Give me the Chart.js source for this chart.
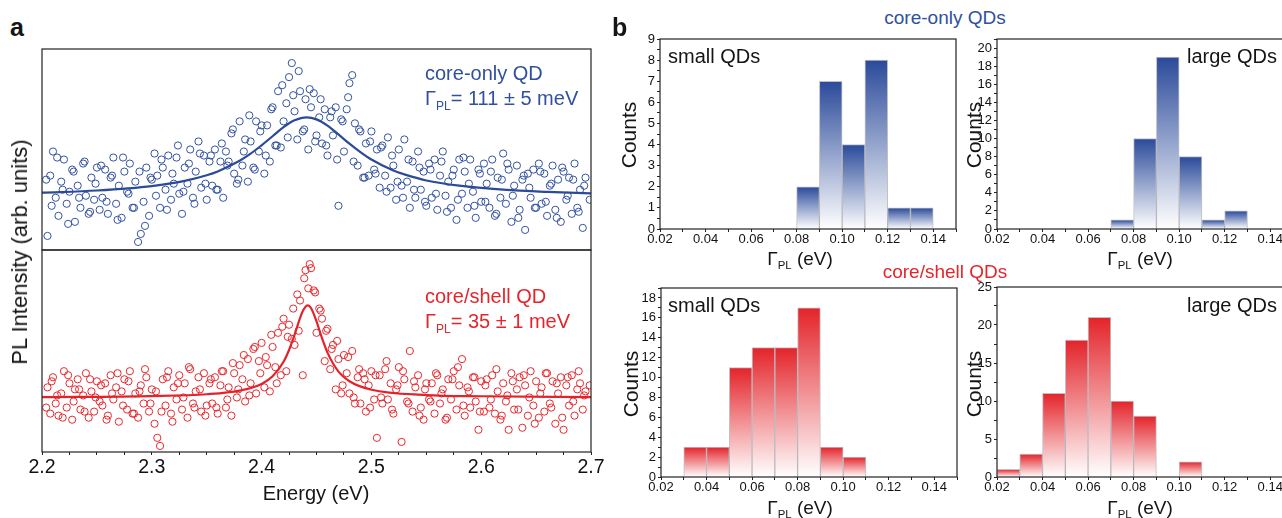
<!DOCTYPE html>
<html>
<head>
<meta charset="utf-8">
<script src="https://cdn.jsdelivr.net/npm/chart.js@4.4.1/dist/chart.umd.min.js"></script>
<style>
  html, body { margin: 0; padding: 0; background: #fff; }
  body { position: relative; width: 1282px; height: 518px; overflow: hidden;
         font-family: "Liberation Sans", Arial, sans-serif; color: #151515; }
  canvas, .t { position: absolute; }
  .t { white-space: nowrap; line-height: 1; }
  .rot { transform: translate(-50%, -50%) rotate(-90deg); }
  .ctr { transform: translate(-50%, -50%); }
  .blue { color: #30509f; }
  .red { color: #e4262c; }
  sub { font-size: 0.6em; vertical-align: -0.4em; line-height: 0; }
</style>
</head>
<body>
<canvas id="specTop" width="569" height="221" style="left:32px;top:39px"></canvas>
<canvas id="specBot" width="620" height="278" style="left:0px;top:240px"></canvas>
<canvas id="histTL" width="346" height="226" style="left:620px;top:29px"></canvas>
<canvas id="histTR" width="346" height="226" style="left:957px;top:29px"></canvas>
<canvas id="histBL" width="346" height="225" style="left:621px;top:278px"></canvas>
<canvas id="histBR" width="346" height="226" style="left:957px;top:277px"></canvas>

<div class="t" style="left:10px;top:15px;font-size:25px;font-weight:bold">a</div>
<div class="t" style="left:612px;top:15px;font-size:25px;font-weight:bold">b</div>

<div class="t blue" style="left:425px;top:63px;font-size:20px">core-only QD</div>
<div class="t blue" style="left:425px;top:88px;font-size:20px">Γ<sub>PL</sub>= 111 ± 5 meV</div>
<div class="t red" style="left:425px;top:286px;font-size:20px">core/shell QD</div>
<div class="t red" style="left:425px;top:311px;font-size:20px">Γ<sub>PL</sub>= 35 ± 1 meV</div>
<div class="t rot" style="left:20px;top:252px;font-size:22px">PL Intensity (arb. units)</div>
<div class="t ctr" style="left:316px;top:493px;font-size:20px">Energy (eV)</div>

<div class="t blue ctr" style="left:945px;top:17px;font-size:19px">core-only QDs</div>
<div class="t red ctr" style="left:945px;top:271px;font-size:19px">core/shell QDs</div>
<div class="t" style="left:668px;top:46px;font-size:20px">small QDs</div>
<div class="t" style="left:1187px;top:46px;font-size:20px">large QDs</div>
<div class="t" style="left:668px;top:295px;font-size:20px">small QDs</div>
<div class="t" style="left:1187px;top:295px;font-size:20px">large QDs</div>
<div class="t rot" style="left:628px;top:135px;font-size:21px">Counts</div>
<div class="t rot" style="left:973px;top:135px;font-size:21px">Counts</div>
<div class="t rot" style="left:630px;top:384px;font-size:21px">Counts</div>
<div class="t rot" style="left:973px;top:384px;font-size:21px">Counts</div>
<div class="t ctr" style="left:800px;top:258px;font-size:19px">Γ<sub>PL</sub> (eV)</div>
<div class="t ctr" style="left:1140px;top:258px;font-size:19px">Γ<sub>PL</sub> (eV)</div>
<div class="t ctr" style="left:800px;top:507px;font-size:19px">Γ<sub>PL</sub> (eV)</div>
<div class="t ctr" style="left:1140px;top:507px;font-size:19px">Γ<sub>PL</sub> (eV)</div>

<script>
// spectrometer energy grid (eV), first pass
const energy = [
  2.205, 2.2075, 2.21, 2.2125, 2.215, 2.2175, 2.22, 2.2225, 2.225, 2.2275, 2.23, 2.2325, 2.235, 2.2375, 2.24, 2.2425, 2.245, 2.2475, 2.25, 2.2525,
  2.255, 2.2575, 2.26, 2.2625, 2.265, 2.2675, 2.27, 2.2725, 2.275, 2.2775, 2.28, 2.2825, 2.285, 2.2875, 2.29, 2.2925, 2.295, 2.2975, 2.3, 2.3025,
  2.305, 2.3075, 2.31, 2.3125, 2.315, 2.3175, 2.32, 2.3225, 2.325, 2.3275, 2.33, 2.3325, 2.335, 2.3375, 2.34, 2.3425, 2.345, 2.3475, 2.35, 2.3525,
  2.355, 2.3575, 2.36, 2.3625, 2.365, 2.3675, 2.37, 2.3725, 2.375, 2.3775, 2.38, 2.3825, 2.385, 2.3875, 2.39, 2.3925, 2.395, 2.3975, 2.4, 2.4025,
  2.405, 2.4075, 2.41, 2.4125, 2.415, 2.4175, 2.42, 2.4225, 2.425, 2.4275, 2.43, 2.4325, 2.435, 2.4375, 2.44, 2.4425, 2.445, 2.4475, 2.45, 2.4525,
  2.455, 2.4575, 2.46, 2.4625, 2.465, 2.4675, 2.47, 2.4725, 2.475, 2.4775, 2.48, 2.4825, 2.485, 2.4875, 2.49, 2.4925, 2.495, 2.4975, 2.5, 2.5025,
  2.505, 2.5075, 2.51, 2.5125, 2.515, 2.5175, 2.52, 2.5225, 2.525, 2.5275, 2.53, 2.5325, 2.535, 2.5375, 2.54, 2.5425, 2.545, 2.5475, 2.55, 2.5525,
  2.555, 2.5575, 2.56, 2.5625, 2.565, 2.5675, 2.57, 2.5725, 2.575, 2.5775, 2.58, 2.5825, 2.585, 2.5875, 2.59, 2.5925, 2.595, 2.5975, 2.6, 2.6025,
  2.605, 2.6075, 2.61, 2.6125, 2.615, 2.6175, 2.62, 2.6225, 2.625, 2.6275, 2.63, 2.6325, 2.635, 2.6375, 2.64, 2.6425, 2.645, 2.6475, 2.65, 2.6525,
  2.655, 2.6575, 2.66, 2.6625, 2.665, 2.6675, 2.67, 2.6725, 2.675, 2.6775, 2.68, 2.6825, 2.685, 2.6875, 2.69, 2.6925, 2.695
];
// second, interleaved pass (eV)
const energyB = [
  2.2038, 2.2088, 2.2138, 2.2188, 2.2238, 2.2288, 2.2338, 2.2388, 2.2438, 2.2488,
  2.2538, 2.2588, 2.2638, 2.2688, 2.2738, 2.2788, 2.2838, 2.2888, 2.2938, 2.2988,
  2.3038, 2.3088, 2.3138, 2.3188, 2.3238, 2.3288, 2.3338, 2.3388, 2.3438, 2.3488,
  2.3538, 2.3588, 2.3638, 2.3688, 2.3738, 2.3788, 2.3838, 2.3888, 2.3938, 2.3988,
  2.4038, 2.4088, 2.4138, 2.4188, 2.4238, 2.4288, 2.4338, 2.4388, 2.4438, 2.4488,
  2.4538, 2.4588, 2.4638, 2.4688, 2.4738, 2.4788, 2.4838, 2.4888, 2.4938, 2.4988,
  2.5038, 2.5088, 2.5138, 2.5188, 2.5238, 2.5288, 2.5338, 2.5388, 2.5438, 2.5488,
  2.5538, 2.5588, 2.5638, 2.5688, 2.5738, 2.5788, 2.5838, 2.5888, 2.5938, 2.5988,
  2.6038, 2.6088, 2.6138, 2.6188, 2.6238, 2.6288, 2.6338, 2.6388, 2.6438, 2.6488,
  2.6538, 2.6588, 2.6638, 2.6688, 2.6738, 2.6788, 2.6838, 2.6888, 2.6938, 2.6988
];

// PL intensity, arb. units
const coreOnly = [
  7, 37, 49, 26, 17, 34, 45, 23, 29, 40, 14, 32, 21, 43, 27, 18, 36, 25, 41, 20,
  26, 40, 18, 36, 46, 23, 32, 16, 39, 29, 43, 21, 34, 4, 8, 24, 41, 17, 35, 48,
  37, 21, 41, 30, 47, 25, 33, 46, 28, 18, 41, 33, 50, 26, 39, 54, 31, 47, 25, 44,
  32, 50, 30, 44, 26, 49, 44, 58, 38, 33, 64, 42, 55, 34, 54, 41, 64, 49, 62, 38,
  62, 44, 71, 52, 79, 51, 64, 73, 86, 93, 69, 55, 79, 59, 75, 50, 71, 78, 57, 66,
  53, 70, 47, 66, 57, 71, 22, 65, 49, 70, 83, 87, 63, 42, 59, 36, 53, 37, 59, 40,
  50, 31, 52, 37, 56, 31, 42, 25, 50, 32, 55, 34, 21, 44, 26, 49, 30, 39, 22, 43,
  26, 45, 20, 37, 49, 27, 34, 21, 40, 15, 45, 28, 39, 21, 45, 29, 16, 40, 24, 43,
  33, 21, 45, 17, 36, 26, 48, 23, 40, 14, 32, 42, 20, 35, 10, 38, 26, 40, 21, 43,
  23, 38, 17, 32, 42, 20, 35, 14, 39, 25, 36, 18, 43, 21, 30, 11, 36
];
const coreOnlyB = [
  35, 22, 46, 30, 13, 39, 26, 44, 19, 33,
  42, 24, 37, 15, 46, 28, 21, 39, 12, 36,
  27, 45, 20, 38, 52, 29, 43, 23, 48, 33,
  47, 30, 53, 42, 60, 35, 49, 67, 40, 59,
  47, 70, 52, 82, 56, 77, 89, 60, 80, 54,
  75, 52, 69, 45, 64, 76, 44, 60, 36, 54,
  38, 51, 29, 47, 34, 26, 45, 30, 41, 24,
  40, 28, 44, 19, 37, 25, 46, 33, 22, 38,
  24, 39, 18, 35, 43, 27, 16, 37, 31, 21,
  39, 24, 33, 16, 41, 27, 35, 19, 32, 25
];
const coreShell = [
  32, 19, 37, 24, 18, 29, 40, 22, 34, 16, 31, 36, 21, 28, 39, 17, 30, 20, 35, 25,
  23, 34, 18, 38, 26, 32, 15, 30, 36, 21, 40, 19, 29, 17, 33, 24, 37, 20, 31, 14,
  7, 3, 36, 23, 40, 19, 32, 26, 38, 21, 34, 17, 41, 24, 30, 37, 20, 39, 23, 34,
  24, 37, 19, 33, 40, 22, 32, 18, 39, 27, 43, 36, 25, 46, 34, 51, 29, 45, 54, 32,
  43, 30, 52, 42, 59, 38, 66, 40, 63, 56, 53, 78, 75, 38, 90, 81, 91, 80, 59, 71,
  66, 45, 61, 41, 53, 31, 46, 29, 48, 39, 29, 50, 24, 37, 24, 39, 20, 33, 40, 26,
  7, 38, 24, 41, 26, 34, 19, 31, 42, 5, 36, 25, 50, 20, 32, 38, 22, 16, 34, 26,
  34, 19, 38, 24, 31, 16, 36, 26, 40, 21, 33, 46, 18, 32, 22, 37, 25, 11, 35, 20,
  36, 22, 38, 19, 30, 16, 34, 25, 11, 39, 21, 31, 37, 12, 33, 18, 40, 23, 35, 17,
  32, 20, 39, 24, 35, 14, 29, 37, 11, 33, 23, 38, 18, 31, 34, 21, 30
];
const coreShellB = [
  22, 35, 28, 17, 38, 25, 31, 20, 36, 27,
  33, 16, 29, 39, 23, 35, 19, 30, 41, 24,
  30, 20, 37, 15, 34, 27, 42, 22, 31, 18,
  36, 22, 40, 26, 44, 31, 48, 28, 52, 39,
  47, 58, 34, 62, 57, 71, 60, 86, 93, 79,
  70, 60, 51, 55, 33, 47, 27, 41, 36, 22,
  38, 27, 45, 21, 33, 40, 24, 35, 18, 31,
  25, 39, 29, 17, 36, 42, 23, 30, 37, 20,
  33, 26, 41, 18, 28, 35, 21, 38, 27, 14,
  29, 39, 22, 34, 17, 37, 25, 40, 28, 33
];

// fitted curves
const fitEnergyCore = [2.20, 2.25, 2.30, 2.33, 2.35, 2.36, 2.38, 2.39, 2.40, 2.41, 2.42, 2.43, 2.441, 2.45, 2.46, 2.47, 2.48, 2.49, 2.50, 2.52, 2.53, 2.55, 2.58, 2.62, 2.66, 2.70];
const fitCoreOnly   = [28.5, 29.6, 31.8, 34.4, 37.2, 39.1, 44.4, 47.9, 52.1, 56.6, 61.1, 64.5, 66.0, 65.0, 61.9, 57.5, 52.9, 48.7, 45.0, 39.5, 37.6, 34.6, 32.0, 30.0, 28.9, 28.2];
const fitEnergyShell = [2.20, 2.30, 2.35, 2.38, 2.40, 2.41, 2.42, 2.425, 2.43, 2.435, 2.438, 2.442, 2.445, 2.45, 2.455, 2.46, 2.47, 2.48, 2.50, 2.55, 2.60, 2.70];
const fitCoreShell   = [27.2, 27.7, 28.6, 30.4, 33.7, 37.5, 44.7, 50.5, 58.0, 66.3, 70.3, 72.6, 71.3, 64.7, 56.4, 49.2, 39.8, 35.0, 30.8, 28.2, 27.6, 27.2];

// histograms: bin centres (eV, 0.01 wide) and counts
const binsSmallCore = [0.085, 0.095, 0.105, 0.115, 0.125, 0.135];
const countsSmallCore = [2, 7, 4, 8, 1, 1];
const binsLargeCore = [0.075, 0.085, 0.095, 0.105, 0.115, 0.125];
const countsLargeCore = [1, 10, 19, 8, 1, 2];
const binsSmallShell = [0.035, 0.045, 0.055, 0.065, 0.075, 0.085, 0.095, 0.105];
const countsSmallShell = [3, 3, 11, 13, 13, 17, 3, 2];
const binsLargeShell = [0.025, 0.035, 0.045, 0.055, 0.065, 0.075, 0.085, 0.105];
const countsLargeShell = [1, 3, 11, 18, 21, 10, 8, 2];

// tick labels
const energyLabels = ['2.2', '2.3', '2.4', '2.5', '2.6', '2.7'];
const widthLabels = ['0.02', '0.04', '0.06', '0.08', '0.10', '0.12', '0.14'];
const countLabelsTL = ['0', '1', '2', '3', '4', '5', '6', '7', '8', '9'];
const countLabelsTR = ['0', '2', '4', '6', '8', '10', '12', '14', '16', '18', '20'];
const countLabelsBL = ['0', '2', '4', '6', '8', '10', '12', '14', '16', '18'];
const countLabelsBR = ['0', '5', '10', '15', '20', '25'];

const BLUE = '#3352a2', BLUE_FIT = '#2b4a98', RED = '#e8292f', RED_FIT = '#e3222a';

Chart.defaults.font.family = '"Liberation Sans", Arial, sans-serif';
Chart.defaults.color = '#111';

const frame = {
  id: 'frame',
  afterDraw(chart) {
    const {ctx, chartArea: a} = chart;
    ctx.save();
    ctx.strokeStyle = '#222';
    ctx.lineWidth = 1.2;
    ctx.strokeRect(a.left, a.top, a.right - a.left, a.bottom - a.top);
    ctx.restore();
  }
};

const noPlugins = {legend: {display: false}, tooltip: {enabled: false}};

function spectrum(id, values, valuesB, fitX, fitY, colour, fitColour, withAxis) {
  const xScale = {
    type: 'linear', min: 2.2, max: 2.7, display: withAxis,
    border: {display: false},
    grid: {drawOnChartArea: false, tickLength: 3, color: '#222'},
    ticks: {
      stepSize: 0.025, autoSkip: false, maxRotation: 0, padding: 1,
      font: {size: 19.5}, color: '#111',
      callback: v => {
        const s = v.toFixed(1);
        return Math.abs(v * 10 - Math.round(v * 10)) < 1e-6 && energyLabels.includes(s) ? s : '';
      }
    }
  };
  if (withAxis) xScale.afterFit = s => { s.height = 66; };
  const points = energy.map((x, i) => ({x, y: values[i]}))
    .concat(energyB.map((x, i) => ({x, y: valuesB[i]})));
  new Chart(document.getElementById(id), {
    type: 'scatter',
    data: {
      datasets: [{
        data: fitX.map((x, i) => ({x, y: fitY[i]})),
        showLine: true, pointRadius: 0, borderColor: fitColour, borderWidth: 2.2,
        cubicInterpolationMode: 'monotone', fill: false
      }, {
        data: points,
        pointRadius: 3.6, pointBorderWidth: 1,
        pointBackgroundColor: 'rgba(255,255,255,0)', pointBorderColor: colour
      }]
    },
    options: {
      responsive: false, animation: false, events: [],
      layout: {padding: withAxis ? {left: 42, right: 29, top: 10, bottom: 0} : 10},
      scales: {x: xScale, y: {display: false, min: 0, max: 100}},
      plugins: noPlugins
    },
    plugins: [frame]
  });
}

function gradientFill(top) {
  return ctx => {
    const chart = ctx.chart;
    if (!chart.chartArea || ctx.type !== 'data') return top;
    const ys = chart.scales.y;
    const y0 = ys.getPixelForValue(ctx.parsed.y), y1 = ys.getPixelForValue(0);
    const g = chart.ctx.createLinearGradient(0, y0, 0, y1);
    g.addColorStop(0, top);
    g.addColorStop(1, '#ffffff');
    return g;
  };
}

function histogram(id, bins, counts, yMax, yStep, yLabels, top) {
  new Chart(document.getElementById(id), {
    type: 'bar',
    data: {
      datasets: [{
        data: bins.map((x, i) => ({x, y: counts[i]})),
        backgroundColor: gradientFill(top),
        borderColor: 'rgba(150,150,160,0.6)', borderWidth: 1,
        barPercentage: 1, categoryPercentage: 1
      }]
    },
    options: {
      responsive: false, animation: false, events: [],
      layout: {padding: {top: 10, right: 10, left: 0, bottom: 0}},
      scales: {
        x: {
          type: 'linear', min: 0.02, max: 0.15, offset: false,
          border: {display: false},
          grid: {drawOnChartArea: false, tickLength: 3, color: '#222', offset: false},
          ticks: {
            stepSize: 0.01, autoSkip: false, maxRotation: 0, padding: 0,
            font: {size: 13}, color: '#111',
            callback: v => {
              const s = v.toFixed(2);
              return widthLabels.includes(s) ? s : '';
            }
          },
          afterFit: s => { s.height = 26; }
        },
        y: {
          min: 0, max: yMax,
          border: {display: false},
          grid: {drawOnChartArea: false, tickLength: 3, color: '#222'},
          ticks: {
            stepSize: yStep, autoSkip: false, padding: 2,
            font: {size: 13}, color: '#111',
            callback: v => {
              const s = String(Math.round(v * 100) / 100);
              return yLabels.includes(s) ? s : '';
            }
          },
          afterFit: s => { s.width = 40; }
        }
      },
      plugins: noPlugins
    },
    plugins: [frame]
  });
}

spectrum('specTop', coreOnly, coreOnlyB, fitEnergyCore, fitCoreOnly, BLUE, BLUE_FIT, false);
spectrum('specBot', coreShell, coreShellB, fitEnergyShell, fitCoreShell, RED, RED_FIT, true);

histogram('histTL', binsSmallCore, countsSmallCore, 9, 0.5, countLabelsTL, '#2a4a9a');
histogram('histTR', binsLargeCore, countsLargeCore, 21, 1, countLabelsTR, '#2a4a9a');
histogram('histBL', binsSmallShell, countsSmallShell, 19, 1, countLabelsBL, '#e3242a');
histogram('histBR', binsLargeShell, countsLargeShell, 25, 2.5, countLabelsBR, '#e3242a');
</script>
</body>
</html>
